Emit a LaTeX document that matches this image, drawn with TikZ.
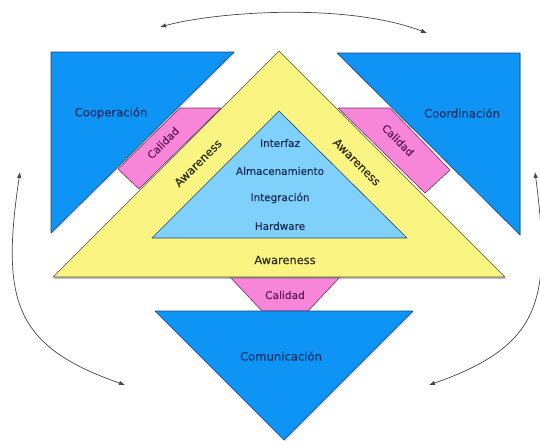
\documentclass[tikz,border=0pt]{standalone}
\usepackage{fontspec}
\setmainfont{DejaVu Sans}[FakeBold=0.35]
\usetikzlibrary{shadows,arrows.meta}

% palette
\definecolor{areablue}{RGB}{14,148,245}
\definecolor{areaedge}{RGB}{28,70,120}
\definecolor{areatext}{RGB}{22,50,105}
\definecolor{awyellow}{RGB}{250,245,130}
\definecolor{awedge}{RGB}{80,80,60}
\definecolor{awtext}{RGB}{45,45,25}
\definecolor{qpink}{RGB}{247,134,216}
\definecolor{qedge}{RGB}{110,50,100}
\definecolor{qtext}{RGB}{100,25,92}
\definecolor{corelight}{RGB}{127,208,250}
\definecolor{coreedge}{RGB}{40,70,100}
\definecolor{coretext}{RGB}{25,45,85}
\definecolor{linkgray}{RGB}{70,70,70}

\begin{document}
\begin{tikzpicture}[x=1pt,y=-1pt,
  areashape/.style={fill=areablue, draw=areaedge, line width=0.6pt, line join=round,
    drop shadow={opacity=0.3, shadow xshift=1.2pt, shadow yshift=-1.2pt}},
  qshape/.style={fill=qpink, draw=qedge, line width=0.6pt, line join=round},
  awshape/.style={fill=awyellow, draw=awedge, line width=0.6pt, line join=round,
    drop shadow={opacity=0.5, shadow xshift=0.8pt, shadow yshift=-1.8pt}},
  coreshape/.style={fill=corelight, draw=coreedge, line width=0.6pt, line join=round},
  arealabel/.style={text=areatext, font=\fontsize{11.6}{13}\selectfont, inner sep=0pt},
  awlabel/.style={text=awtext, font=\fontsize{11.4}{13}\selectfont, inner sep=0pt},
  qlabel/.style={text=qtext, font=\fontsize{10.6}{12}\selectfont, inner sep=0pt},
  corelabel/.style={text=coretext, font=\fontsize{10.4}{12}\selectfont, inner sep=0pt},
  link/.style={draw=linkgray, line width=0.7pt, {Latex[length=6pt,width=4.5pt]}-{Latex[length=6pt,width=4.5pt]}}
]
\useasboundingbox (0,0) rectangle (540,445);

% the three outer areas
\path[areashape] (51,52) -- (234,52) -- (51,233) -- cycle;
\path[areashape] (337,53) -- (520,53) -- (520,235) -- cycle;

% quality strips
\path[qshape] (180,108) -- (221,108) -- (139,189) -- (118,169) -- cycle;
\path[qshape] (338,108) -- (390,108) -- (450,170) -- (425,193) -- cycle;
\path[qshape] (230,277) -- (340,277) -- (308,311) -- (262,311) -- cycle;

\path[areashape] (155,311) -- (413,311) -- (284,440) -- cycle;

% awareness band and core
\path[awshape] (279,51) -- (505,277) -- (53,277) -- cycle;
\path[coreshape] (279,111) -- (407,238) -- (152,238) -- cycle;

% labels
\node[arealabel] (coop) at (111,113) {Cooperación};
\node[arealabel] (coord) at (462,113) {Coordinación};
\node[arealabel] (comu) at (281,356) {Comunicación};

\node[qlabel, rotate=45] (qleft) at (163,143) {Calidad};
\node[qlabel, rotate=-45] (qright) at (398,140) {Calidad};
\node[qlabel] (qbottom) at (285,295) {Calidad};

\node[awlabel, rotate=45] (awleft) at (198,163) {Awareness};
\node[awlabel, rotate=-45] (awright) at (357,162) {Awareness};
\node[awlabel] (awbottom) at (285,260) {Awareness};

\node[corelabel] (c1) at (280,143) {Interfaz};
\node[corelabel] (c2) at (280,171) {Almacenamiento};
\node[corelabel] (c3) at (280,198) {Integración};
\node[corelabel] (c4) at (280,226) {Hardware};

% curved links between the areas
\coordinate (topL) at (160,27);
\coordinate (topR) at (427,33);
\coordinate (leftT) at (20,172);
\coordinate (leftB) at (125,385);
\coordinate (rightT) at (535,172);
\coordinate (rightB) at (429,385);

\draw[link] (topL) .. controls (215,12) and (345,2) .. (topR);
\draw[link] (leftT) .. controls (0.5,302) and (15,346.5) .. (leftB);
\draw[link] (rightT) .. controls (552,302) and (540,346) .. (rightB);
\end{tikzpicture}
\end{document}
